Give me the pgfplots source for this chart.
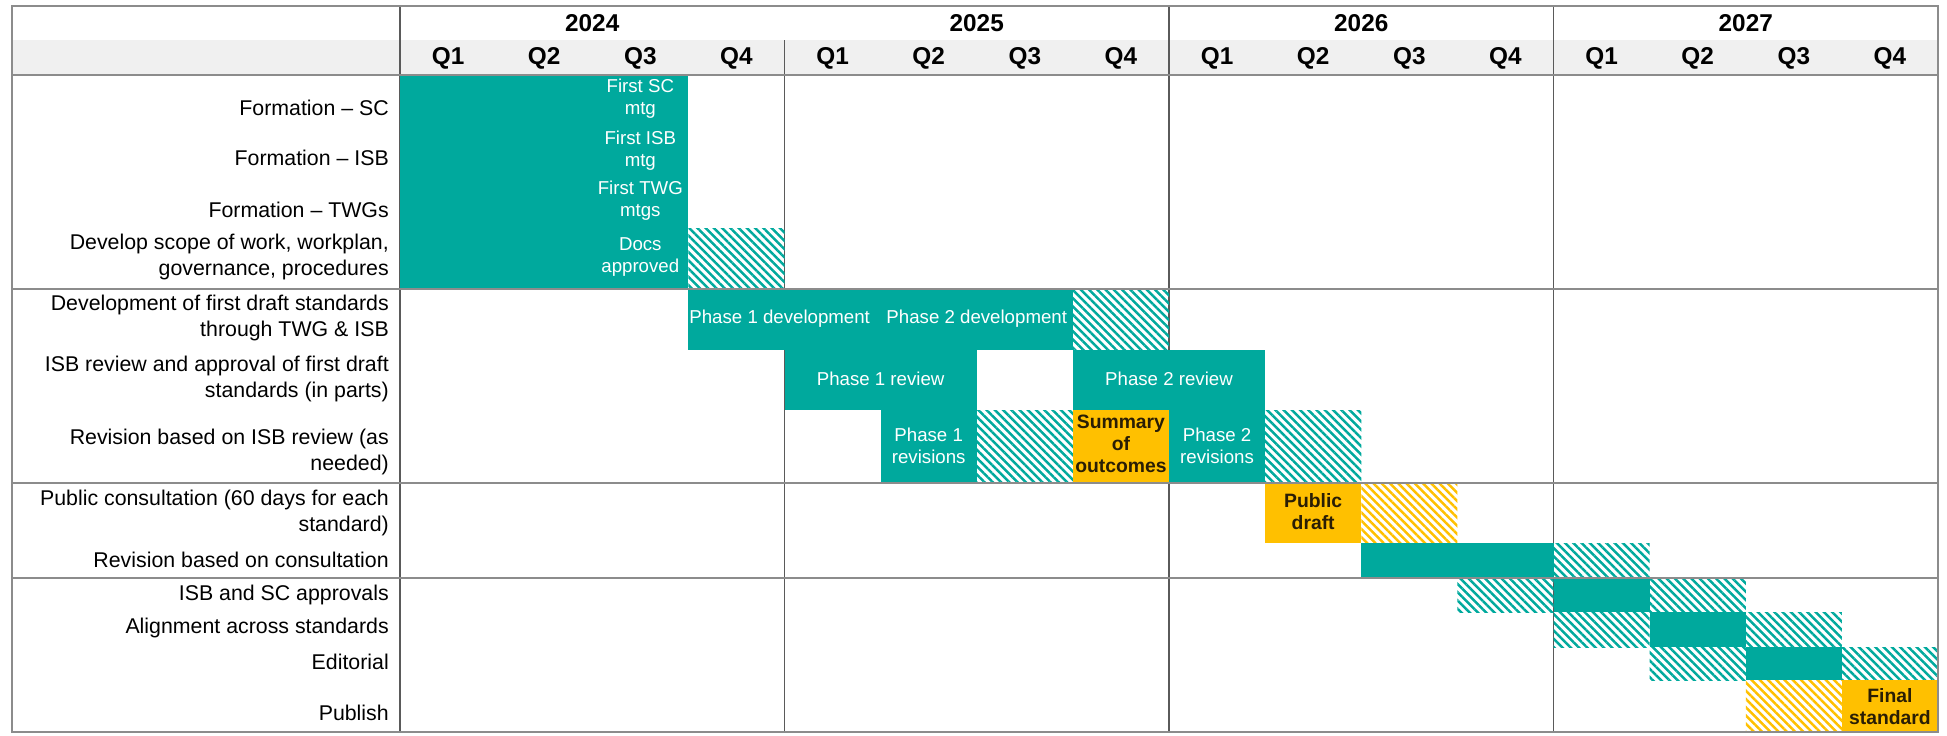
\documentclass[border=0pt]{standalone}
\usepackage{fontspec}
\setmainfont{Liberation Sans}
\usepackage{pgfplots}
\pgfplotsset{compat=1.18}
\usetikzlibrary{patterns.meta}
\definecolor{teal1}{HTML}{00A99D}
\definecolor{gold1}{HTML}{FFC000}
\definecolor{hdr}{HTML}{F0F0F0}
\definecolor{lineg}{HTML}{8C8C8C}
\definecolor{lined}{HTML}{5A5A5A}
\definecolor{txtd}{HTML}{2A1E05}
% solid bar: x0 x1 y0 y1 colour
\newcommand{\solidbar}[5]{\addplot[fill=#5, draw=none, forget plot] coordinates {(#1,#3) (#2,#3) (#2,#4) (#1,#4)} -- cycle;}
% hatched bar
\newcommand{\hatchbar}[5]{\addplot[pattern={Lines[angle=-45,distance=1.75pt,line width=0.75pt]}, pattern color=#5, draw=none, forget plot] coordinates {(#1,#3) (#2,#3) (#2,#4) (#1,#4)} -- cycle;}
\begin{document}
\begin{tikzpicture}
\begin{axis}[scale only axis, width=584.1pt, height=220.5pt,
  xmin=-4.1612, xmax=16.0936, ymin=0, ymax=735, y dir=reverse,
  axis line style={draw=none}, ticks=none, clip=false]
% header band
\solidbar{-4.036}{16}{40}{75}{hdr}
% vertical lines (under bars)
\draw[lined, line width=0.45pt] (axis cs:0,6) -- (axis cs:0,732);
\draw[lined, line width=0.45pt] (axis cs:4,40) -- (axis cs:4,732);
\draw[lined, line width=0.45pt] (axis cs:8,6) -- (axis cs:8,732);
\draw[lined, line width=0.45pt] (axis cs:12,6) -- (axis cs:12,732);
% group 1
\solidbar{0}{3}{75}{289}{teal1}
\hatchbar{3}{4}{228}{289}{teal1}
% development
\solidbar{3}{7}{289}{350}{teal1}
\hatchbar{7}{8}{289}{350}{teal1}
% review
\solidbar{4}{6}{350}{410}{teal1}
\solidbar{7}{9}{350}{410}{teal1}
% revision on ISB review
\solidbar{5}{6}{410}{483}{teal1}
\hatchbar{6}{7}{410}{483}{teal1}
\solidbar{7}{8}{410}{483}{gold1}
\solidbar{8}{9}{410}{483}{teal1}
\hatchbar{9}{10}{410}{483}{teal1}
% public consultation
\solidbar{9}{10}{483}{543}{gold1}
\hatchbar{10}{11}{483}{543}{gold1}
% revision on consultation
\solidbar{10}{12}{543}{578}{teal1}
\hatchbar{12}{13}{543}{578}{teal1}
% approvals
\hatchbar{11}{12}{578}{612}{teal1}
\solidbar{12}{13}{578}{612}{teal1}
\hatchbar{13}{14}{578}{612}{teal1}
% alignment
\hatchbar{12}{13}{612}{647}{teal1}
\solidbar{13}{14}{612}{647}{teal1}
\hatchbar{14}{15}{612}{647}{teal1}
% editorial
\hatchbar{13}{14}{647}{680}{teal1}
\solidbar{14}{15}{647}{680}{teal1}
\hatchbar{15}{16}{647}{680}{teal1}
% publish
\hatchbar{14}{15}{680}{732}{gold1}
\solidbar{15}{16}{680}{732}{gold1}
% horizontal lines and frame
\draw[lineg, line width=0.6pt] (axis cs:-4.036,75) -- (axis cs:16,75);
\draw[lineg, line width=0.6pt] (axis cs:-4.036,289) -- (axis cs:16,289);
\draw[lineg, line width=0.6pt] (axis cs:-4.036,483) -- (axis cs:16,483);
\draw[lineg, line width=0.6pt] (axis cs:-4.036,578) -- (axis cs:16,578);
\draw[lineg, line width=0.6pt] (axis cs:-4.036,6) rectangle (axis cs:16,732);
% header text
\foreach \yr/\xc in {2024/2,2025/6,2026/10,2027/14}{
  \edef\tmp{\noexpand\node[font=\noexpand\fontsize{7.3}{8}\noexpand\selectfont\noexpand\bfseries] at (axis cs:\xc,23) {\yr};}\tmp}
\foreach \q in {0,...,15}{
  \pgfmathtruncatemacro{\ql}{mod(\q,4)+1}
  \pgfmathsetmacro{\qx}{\q+0.5}
  \edef\tmp{\noexpand\node[font=\noexpand\fontsize{7.3}{8}\noexpand\selectfont\noexpand\bfseries] at (axis cs:\qx,58) {Q\ql};}\tmp}
% row labels
\tikzset{lab/.style={anchor=east, align=right, font=\fontsize{6.4}{7.7}\selectfont, inner sep=0pt}}
\node[lab] at (axis cs:-0.11,108) {Formation -- SC};
\node[lab] at (axis cs:-0.11,158) {Formation -- ISB};
\node[lab] at (axis cs:-0.11,210) {Formation -- TWGs};
\node[lab] at (axis cs:-0.11,257) {Develop scope of work, workplan,\\governance, procedures};
\node[lab] at (axis cs:-0.11,318) {Development of first draft standards\\through TWG \& ISB};
\node[lab] at (axis cs:-0.11,379) {ISB review and approval of first draft\\standards (in parts)};
\node[lab] at (axis cs:-0.11,452) {Revision based on ISB review (as\\needed)};
\node[lab] at (axis cs:-0.11,513) {Public consultation (60 days for each\\standard)};
\node[lab] at (axis cs:-0.11,560) {Revision based on consultation};
\node[lab] at (axis cs:-0.11,595) {ISB and SC approvals};
\node[lab] at (axis cs:-0.11,628) {Alignment across standards};
\node[lab] at (axis cs:-0.11,662) {Editorial};
\node[lab] at (axis cs:-0.11,713) {Publish};
% bar texts
\tikzset{wt/.style={align=center, text=white, font=\fontsize{5.6}{6.6}\selectfont, inner sep=0pt},
         bt/.style={align=center, text=txtd, font=\fontsize{5.8}{6.6}\selectfont\bfseries, inner sep=0pt}}
\node[wt] at (axis cs:2.5,99) {First SC\\mtg};
\node[wt] at (axis cs:2.5,151) {First ISB\\mtg};
\node[wt] at (axis cs:2.5,201) {First TWG\\mtgs};
\node[wt] at (axis cs:2.5,257) {Docs\\approved};
\node[wt] at (axis cs:3.95,319) {Phase 1 development};
\node[wt] at (axis cs:6.0,319) {Phase 2 development};
\node[wt] at (axis cs:5.0,379) {Phase 1 review};
\node[wt] at (axis cs:8.0,379) {Phase 2 review};
\node[wt] at (axis cs:5.5,446) {Phase 1\\revisions};
\node[wt] at (axis cs:8.5,446) {Phase 2\\revisions};
\node[bt] at (axis cs:7.5,444) {Summary\\of\\outcomes};
\node[bt] at (axis cs:9.5,512) {Public\\draft};
\node[bt] at (axis cs:15.5,707) {Final\\standard};
\end{axis}
\end{tikzpicture}
\end{document}
